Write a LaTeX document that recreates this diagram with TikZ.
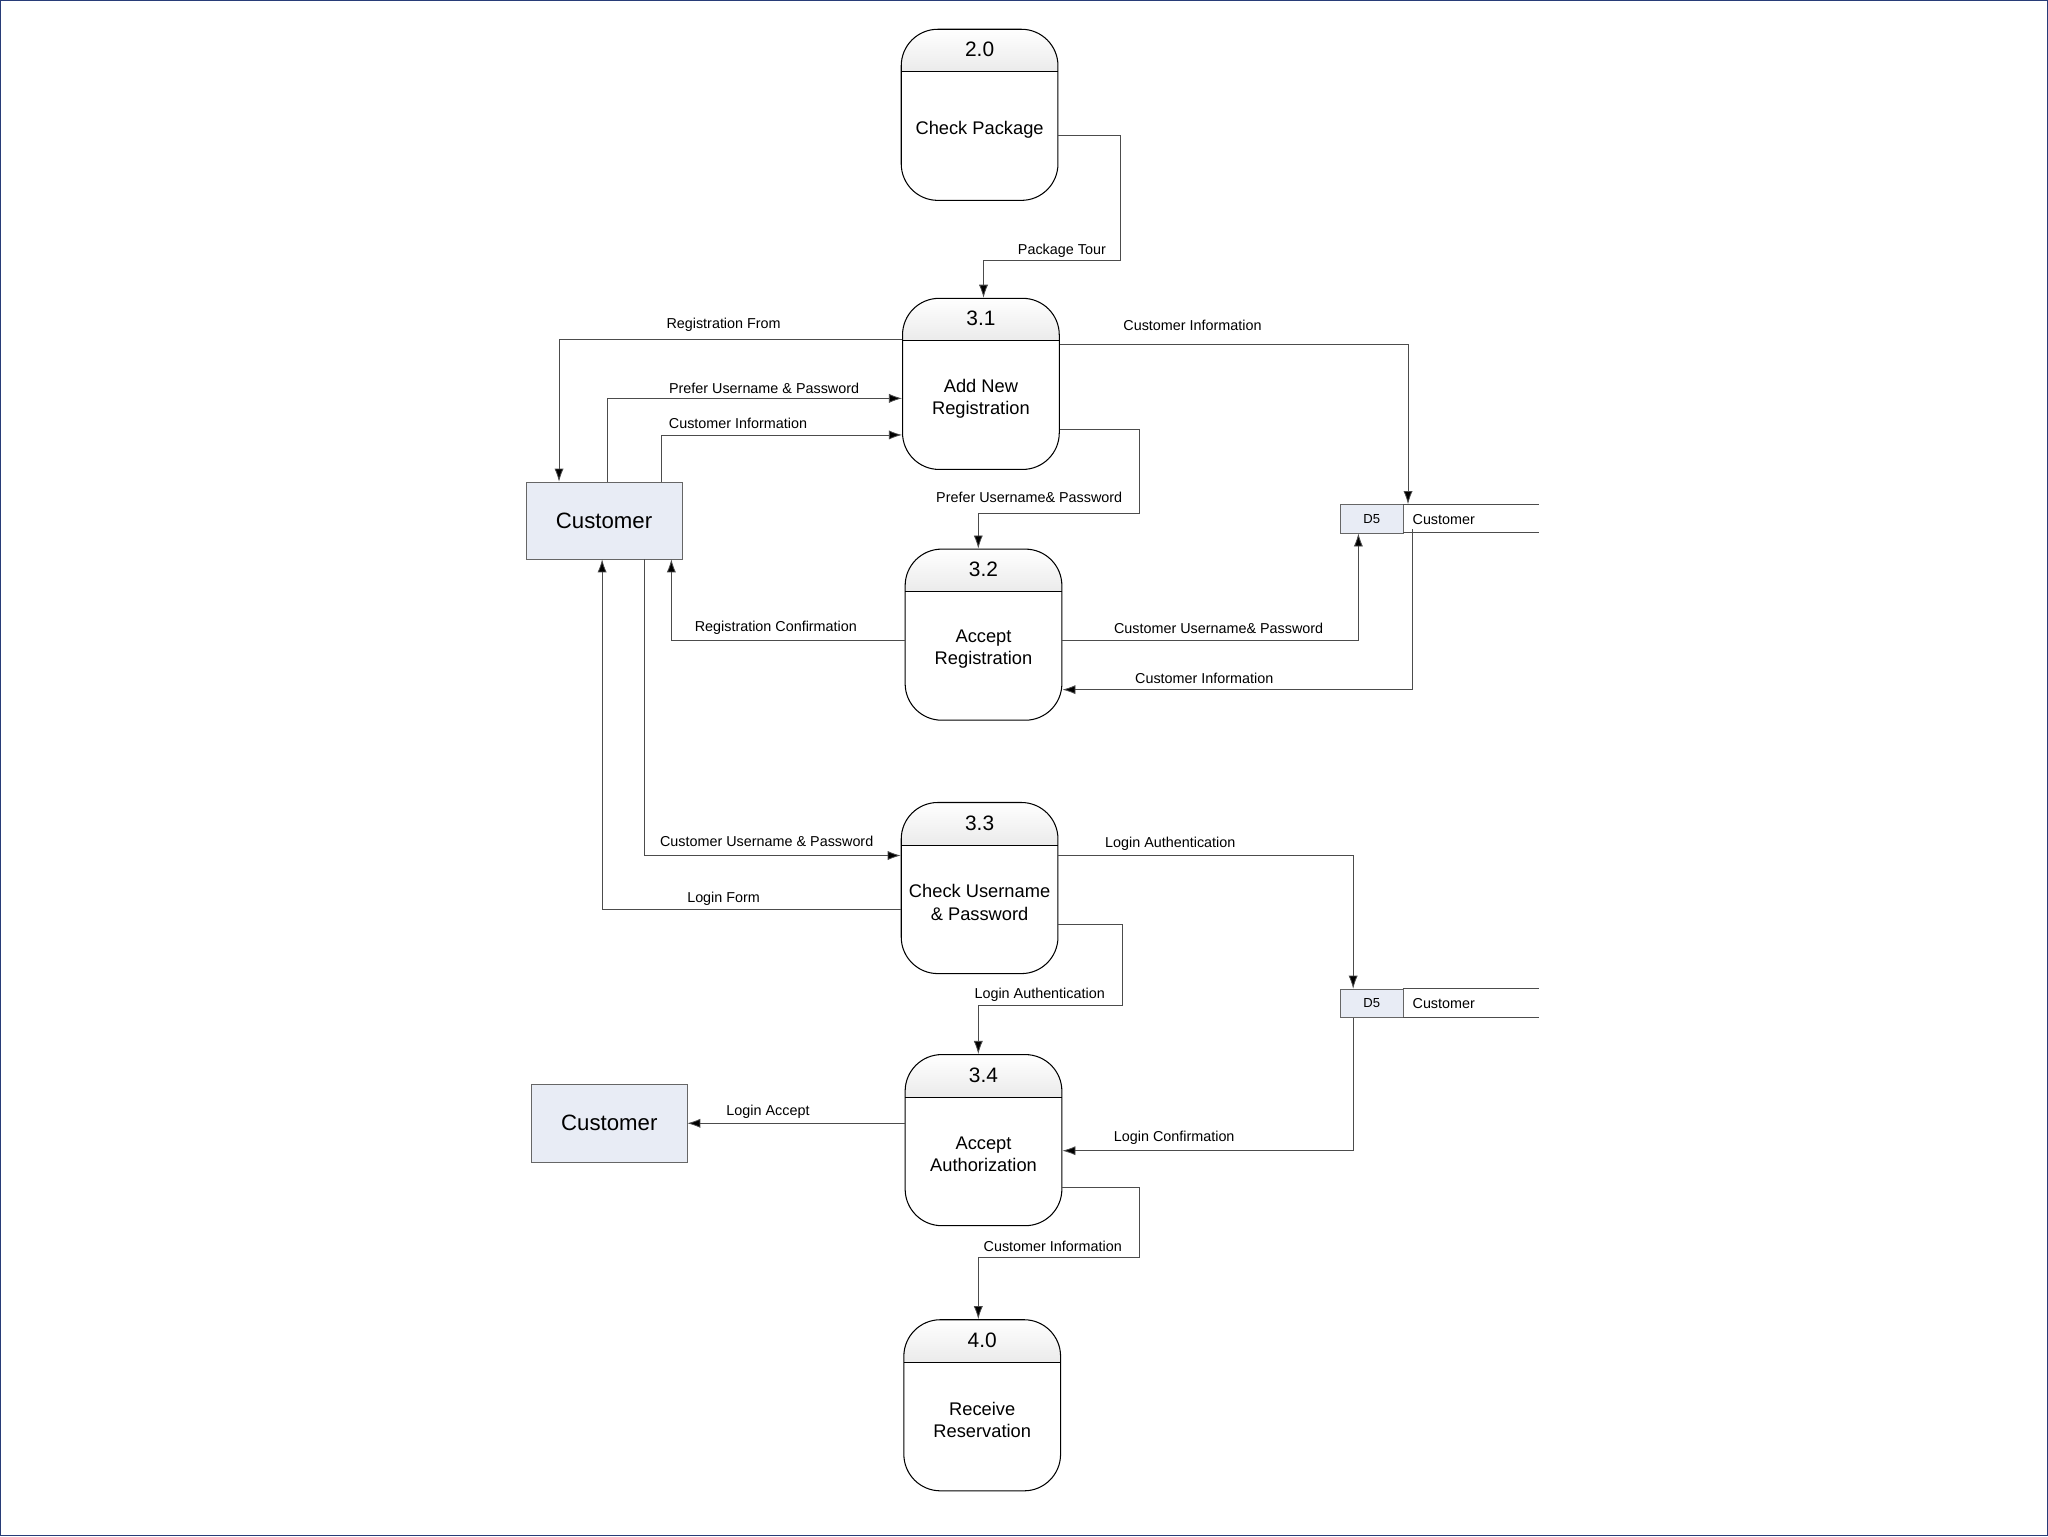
\documentclass[tikz,border=0pt]{standalone}
\usepackage{fontspec}
\setmainfont{Liberation Sans}
\usetikzlibrary{arrows.meta}
\begin{document}
\begin{tikzpicture}[x=1pt,y=-1pt,
  lbl/.style={font=\fontsize{11}{13}\selectfont,inner sep=0pt},
  flow/.style={draw=black!70,line width=0.6pt,-{Latex[length=10pt,width=7pt,fill=black]}},
  ent/.style={draw=black!60,fill={rgb,255:red,232;green,236;blue,245},minimum width=119pt,minimum height=59pt,font=\fontsize{17}{20}\selectfont},
  pbox/.style={draw=black,line width=0.8pt,rounded corners=28pt,minimum width=120pt,minimum height=131pt,inner sep=0pt}]
\useasboundingbox (0,0) rectangle (1568,1176);
\draw[draw={rgb,255:red,40;green,60;blue,120},line width=1pt] (0.5,0.5) rectangle (1567.5,1175.5);
\newcommand\proc[5]{%
  \shade[top color=white,bottom color=black!8,rounded corners=28pt] (#2-60,#3+33) -- (#2-60,#3) -- (#2+60,#3) [sharp corners]-- (#2+60,#3+33) -- cycle;
  \node[pbox,anchor=north] (#1) at (#2,#3) {};
  \draw[line width=0.8pt] (#2-60,#3+33) -- (#2+60,#3+33);
  \node[font=\fontsize{16}{19}\selectfont] at (#2,#3+16) {#4};
  \node[font=\fontsize{14}{17}\selectfont,align=center] at (#2,#3+77) {#5};}
\proc{p20}{750}{22}{2.0}{Check Package}
\proc{p31}{751}{228}{3.1}{Add New\\Registration}
\proc{p32}{753}{420}{3.2}{Accept\\Registration}
\proc{p33}{750}{614}{3.3}{Check Username\\\& Password}
\proc{p34}{753}{807}{3.4}{Accept\\Authorization}
\proc{p40}{752}{1010}{4.0}{Receive\\Reservation}
\node[ent] (c1) at (462.5,398.5) {Customer};
\node[ent] (c2) at (466.5,860) {Customer};
\newcommand\store[3]{%
  \node[draw=black!60,fill={rgb,255:red,232;green,236;blue,245},minimum width=48pt,minimum height=22pt,anchor=north west,inner sep=0pt,font=\fontsize{10}{12}\selectfont] (#1) at (1026,#2) {D5};
  \draw[black!70,line width=0.7pt] (1074,#2) -- (1178,#2) (1074,#2+22) -- (1178,#2+22);
  \node[anchor=west,font=\fontsize{11}{13}\selectfont] (#1t) at (1078,#2+11.5) {Customer};}
\store{d1}{386}{}
\store{d2}{757}{}
% flows
\draw[flow] (p20.east |- 0,104) -- (858,104) -- (858,199) -- (753,199) -- (p31.north -| 753,0);
\node[lbl] at (813,192) {Package Tour};
\draw[flow] (p31.west |- 0,260) -- (428,260) -- (c1.north -| 428,0);
\node[lbl] at (554,249) {Registration From};
\draw[flow] (c1.north -| 465,0) -- (465,305) -- (p31.west |- 0,305);
\node[lbl] at (585,297) {Prefer Username \& Password};
\draw[flow] (c1.north -| 506,0) -- (506,333) -- (p31.west |- 0,333);
\node[lbl] at (565,324) {Customer Information};
\draw[flow] (p31.east |- 0,264) -- (1078,264) -- (d1.north -| 1078,0);
\node[lbl] at (913,249) {Customer Information};
\draw[flow] (p31.east |- 0,329) -- (872,329) -- (872,393) -- (749,393) -- (p32.north -| 749,0);
\node[lbl] at (788,381) {Prefer Username\& Password};
\draw[flow] (p32.west |- 0,490) -- (514,490) -- (c1.south -| 514,0);
\node[lbl] at (594,481) {Registration Confirmation};
\draw[flow] (p32.east |- 0,490) -- (1040,490) -- (d1.south -| 1040,0);
\node[lbl] at (933,481) {Customer Username\& Password};
\draw[flow] (d1t.south -| 1081,0) -- (1081,528) -- (p32.east |- 0,528);
\node[lbl] at (922,519) {Customer Information};
\draw[flow] (c1.south -| 493,0) -- (493,655) -- (p33.west |- 0,655);
\node[lbl] at (587,644) {Customer Username \& Password};
\draw[flow] (p33.west |- 0,696) -- (461,696) -- (c1.south -| 461,0);
\node[lbl] at (554,688) {Login Form};
\draw[flow] (p33.east |- 0,655) -- (1036,655) -- (d2.north -| 1036,0);
\node[lbl] at (896,646) {Login Authentication};
\draw[flow] (p33.east |- 0,708) -- (859,708) -- (859,770) -- (749,770) -- (p34.north -| 749,0);
\node[lbl] at (796,762) {Login Authentication};
\draw[flow] (p34.west |- 0,860) -- (c2.east |- 0,860);
\node[lbl] at (588,851) {Login Accept};
\draw[flow] (d2.south -| 1036,0) -- (1036,881) -- (p34.east |- 0,881);
\node[lbl] at (899,871) {Login Confirmation};
\draw[flow] (p34.east |- 0,909) -- (872,909) -- (872,963) -- (749,963) -- (p40.north -| 749,0);
\node[lbl] at (806,954) {Customer Information};
\end{tikzpicture}
\end{document}
